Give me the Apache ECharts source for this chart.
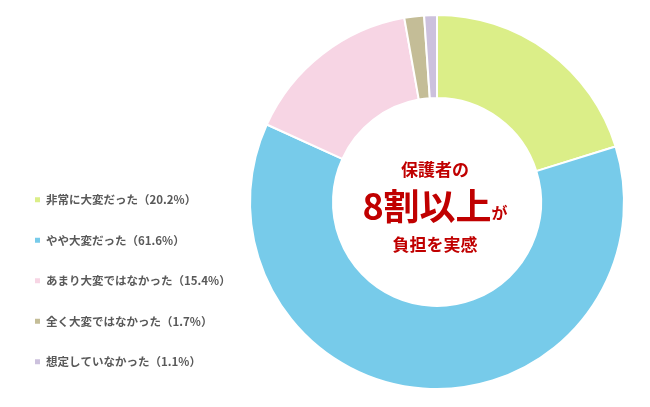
<!DOCTYPE html>
<html><head><meta charset="utf-8">
<script src="https://cdn.jsdelivr.net/npm/echarts@6/dist/echarts.min.js"></script>
<style>html,body{margin:0;padding:0;background:#fff}#c{width:650px;height:407px}</style>
</head><body><div id="c"></div>
<script>
const categories = ['非常に大変だった', 'やや大変だった', 'あまり大変ではなかった', '全く大変ではなかった', '想定していなかった'];
const values = [20.2, 61.6, 15.4, 1.7, 1.1];
const colors = ['#dbee88', '#77cbea', '#f7d5e4', '#c4bd97', '#ccc1dd'];
const centerLine1 = '保護者の';
const centerLine2Big = '8割以上';
const centerLine2Small = 'が';
const centerLine3 = '負担を実感';

const chart = echarts.init(document.getElementById('c'));
const font = '"Noto Sans CJK JP", "Noto Sans", sans-serif';
chart.setOption({
  animation: false,
  color: colors,
  legend: {
    orient: 'vertical', left: 28, top: 189,
    itemWidth: 7, itemHeight: 7, itemGap: 29, icon: 'rect',
    textStyle: { color: '#595959', fontSize: 11.5, fontWeight: 'bold', fontFamily: font },
    formatter: function (n) { const i = categories.indexOf(n); return n + '（' + values[i].toFixed(1) + '%）'; },
    data: categories
  },
  graphic: [
    { type: 'text', x: 435, y: 170, style: { text: centerLine1, fill: '#c00000', font: 'bold 17px ' + font, textAlign: 'center', textVerticalAlign: 'middle' } },
    { type: 'text', x: 435, y: 206, style: { text: '{a|' + centerLine2Big + '}{b|' + centerLine2Small + '}', textAlign: 'center', textVerticalAlign: 'middle',
        rich: { a: { fill: '#c00000', fontSize: 36, fontWeight: 'bold', fontFamily: font, verticalAlign: 'bottom' }, b: { fill: '#c00000', fontSize: 16, fontWeight: 'bold', fontFamily: font, verticalAlign: 'bottom', padding: [0,0,3,0] } } } },
    { type: 'text', x: 435, y: 245, style: { text: centerLine3, fill: '#c00000', font: 'bold 17px ' + font, textAlign: 'center', textVerticalAlign: 'middle' } }
  ],
  series: [{
    type: 'pie', center: [437, 202], radius: [104, 187], startAngle: 90, clockwise: true,
    label: { show: false }, labelLine: { show: false },
    itemStyle: { borderColor: '#fff', borderWidth: 2 },
    emphasis: { disabled: true },
    data: categories.map((n, i) => ({ name: n, value: values[i] }))
  }]
});
</script></body></html>
